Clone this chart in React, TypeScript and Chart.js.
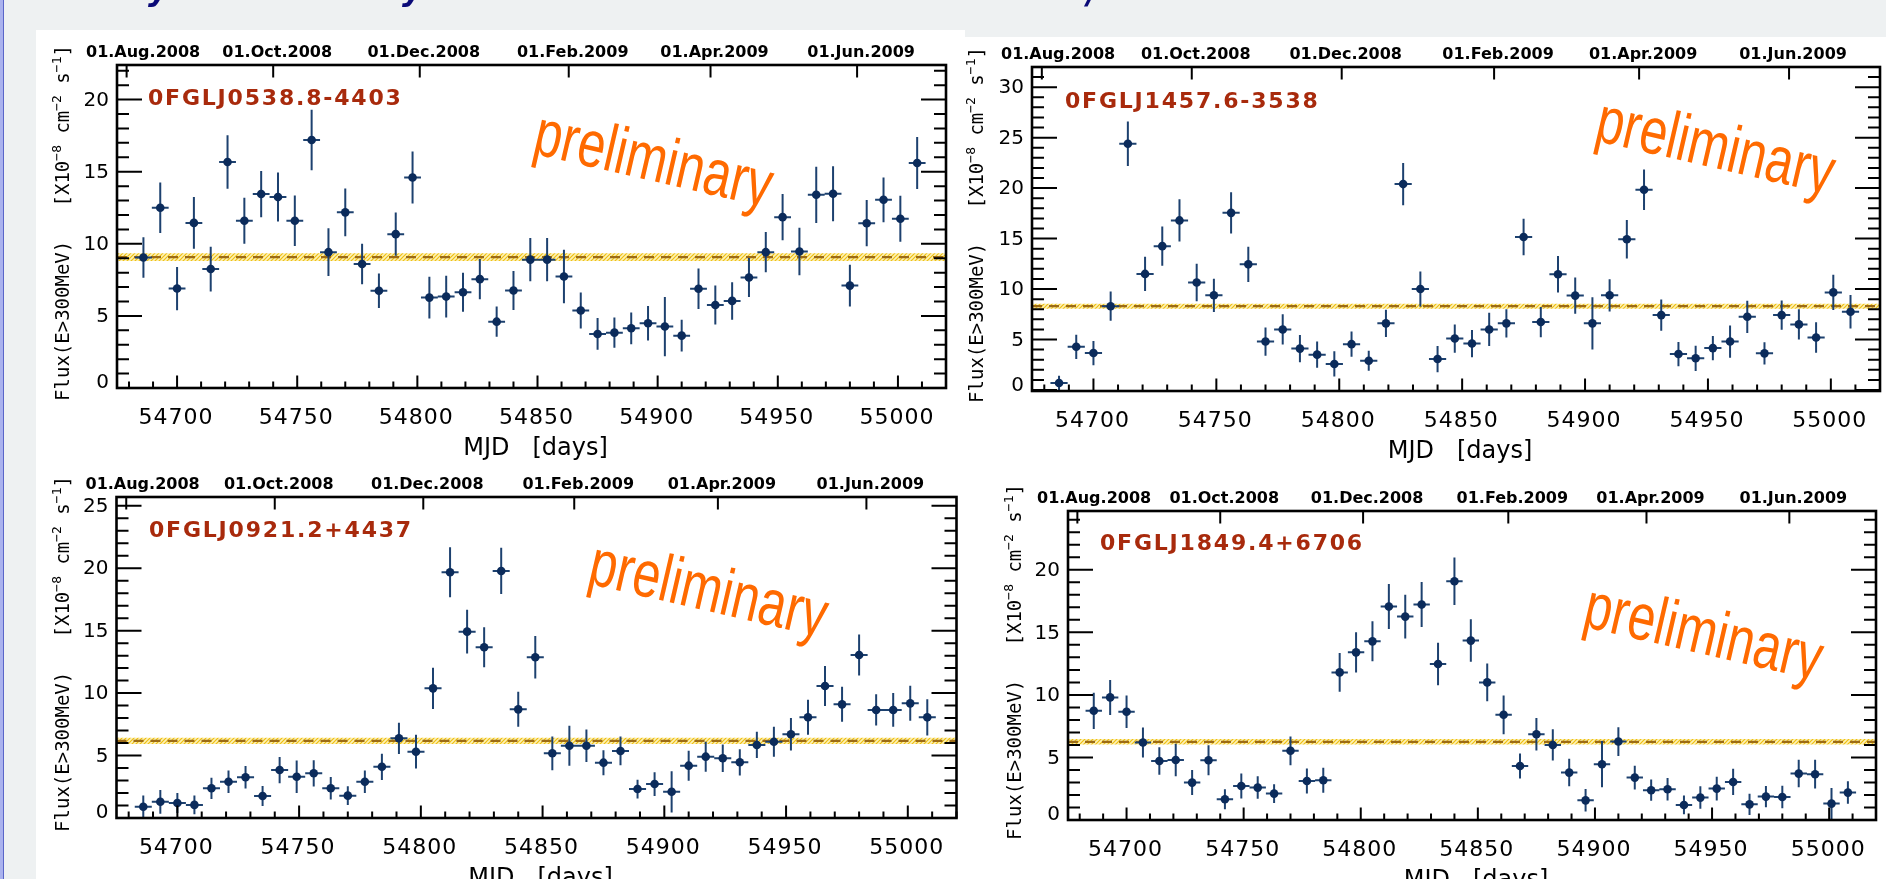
import React, { useEffect, useRef } from 'react';
import { Chart, registerables } from 'chart.js';

Chart.register(...registerables);

const W = 1886;
const H = 879;

// ---- data (weekly bins, MJD centres) ----
const MJD = [
  54686, 54693, 54700, 54707, 54714, 54721, 54728, 54735, 54742, 54749, 54756, 54763,
  54770, 54777, 54784, 54791, 54798, 54805, 54812, 54819, 54826, 54833, 54840, 54847,
  54854, 54861, 54868, 54875, 54882, 54889, 54896, 54903, 54910, 54917, 54924, 54931,
  54938, 54945, 54952, 54959, 54966, 54973, 54980, 54987, 54994, 55001, 55008,
];

const FLUX_J0538 = [9.05, 12.5, 6.9, 11.45, 8.25, 15.67, 11.6, 13.45, 13.24, 11.6, 17.2, 9.42, 12.18, 8.6, 6.74, 10.67, 14.6, 6.27, 6.34, 6.64, 7.55, 4.6, 6.76, 8.9, 8.9, 7.73, 5.37, 3.75, 3.84, 4.14, 4.49, 4.26, 3.63, 6.88, 5.76, 6.04, 7.66, 9.42, 11.85, 9.47, 13.4, 13.47, 7.1, 11.43, 13.05, 11.74, 15.6];
const ERR_J0538 = [1.4, 1.75, 1.5, 1.8, 1.55, 1.85, 1.6, 1.6, 1.7, 1.75, 2.1, 1.65, 1.65, 1.4, 1.2, 1.5, 1.8, 1.45, 1.45, 1.35, 1.4, 1.05, 1.35, 1.5, 1.5, 1.85, 1.25, 1.1, 1.05, 1.1, 1.2, 2.05, 1.1, 1.4, 1.35, 1.3, 1.35, 1.4, 1.6, 1.65, 1.95, 1.9, 1.45, 1.6, 1.55, 1.6, 1.8];

const FLUX_J1457 = [0.7, 4.28, 3.66, 8.3, 24.4, 11.5, 14.25, 16.8, 10.65, 9.38, 17.55, 12.45, 4.8, 6.0, 4.1, 3.5, 2.58, 4.54, 2.9, 6.6, 20.4, 10.0, 3.07, 5.1, 4.6, 6.0, 6.6, 15.16, 6.73, 11.47, 9.35, 6.6, 9.38, 14.93, 19.84, 7.42, 3.56, 3.14, 4.15, 4.8, 7.25, 3.63, 7.42, 6.5, 5.2, 9.67, 7.75];
const ERR_J1457 = [0.7, 1.2, 1.2, 1.45, 2.2, 1.7, 1.95, 2.1, 1.85, 1.65, 2.05, 1.75, 1.4, 1.5, 1.35, 1.3, 1.25, 1.25, 1.0, 1.35, 2.1, 1.75, 1.3, 1.4, 1.35, 1.65, 1.4, 1.8, 1.5, 1.8, 1.8, 2.6, 1.6, 1.9, 2.0, 1.55, 1.2, 1.25, 1.2, 1.6, 1.6, 1.1, 1.45, 1.5, 1.5, 1.75, 1.65];

const FLUX_J0921 = [0.9, 1.3, 1.2, 1.05, 2.38, 2.9, 3.26, 1.76, 3.84, 3.3, 3.58, 2.38, 1.79, 2.9, 4.1, 6.38, 5.31, 10.38, 19.67, 14.92, 13.67, 19.78, 8.7, 12.87, 5.18, 5.79, 5.79, 4.43, 5.37, 2.32, 2.72, 2.1, 4.19, 4.91, 4.78, 4.46, 5.85, 6.11, 6.7, 8.06, 10.57, 9.1, 13.05, 8.65, 8.65, 9.18, 8.06];
const ERR_J0921 = [0.9, 0.95, 0.8, 0.75, 0.85, 0.9, 0.9, 0.8, 1.05, 1.3, 1.05, 0.9, 0.75, 0.9, 1.05, 1.25, 1.35, 1.65, 2.0, 1.75, 1.6, 1.85, 1.4, 1.7, 1.35, 1.6, 1.3, 1.0, 1.15, 0.75, 0.95, 1.65, 1.2, 1.2, 1.1, 1.05, 1.05, 1.2, 1.3, 1.4, 1.6, 1.4, 1.65, 1.25, 1.35, 1.4, 1.45];

const FLUX_J1849 = [8.73, 9.8, 8.65, 6.19, 4.72, 4.8, 2.99, 4.78, 1.66, 2.72, 2.59, 2.11, 5.53, 3.12, 3.18, 11.8, 13.4, 14.28, 17.06, 16.26, 17.22, 12.47, 19.09, 14.34, 11.0, 8.41, 4.32, 6.86, 6.0, 3.79, 1.57, 4.46, 6.27, 3.39, 2.38, 2.46, 1.2, 1.79, 2.51, 3.04, 1.25, 1.87, 1.84, 3.71, 3.66, 1.31, 2.19];
const ERR_J1849 = [1.45, 1.4, 1.3, 1.2, 1.1, 1.3, 1.0, 1.2, 0.8, 1.0, 0.9, 0.75, 1.15, 1.0, 1.0, 1.55, 1.6, 1.6, 1.8, 1.75, 1.8, 1.7, 1.9, 1.7, 1.5, 1.55, 1.0, 1.3, 1.25, 1.1, 0.9, 1.85, 1.15, 0.95, 0.85, 0.9, 0.75, 0.9, 0.95, 1.05, 0.85, 0.85, 0.9, 1.1, 1.15, 1.25, 0.9];

const SOURCE_NAMES = ['0FGLJ0538.8-4403', '0FGLJ1457.6-3538', '0FGLJ0921.2+4437', '0FGLJ1849.4+6706'];
const MEAN_FLUX = [9.07, 8.3, 6.18, 6.25];
const MEAN_ERR = [0.27, 0.25, 0.25, 0.22];

const X_TICKS = [54700, 54750, 54800, 54850, 54900, 54950, 55000];
const DATE_TICKS = [54679, 54740, 54801, 54863, 54922, 54983];
const DATE_LABELS = ['01.Aug.2008', '01.Oct.2008', '01.Dec.2008', '01.Feb.2009', '01.Apr.2009', '01.Jun.2009'];
const Y_TICKS_J0538 = [0, 5, 10, 15, 20];
const Y_TICKS_J1457 = [0, 5, 10, 15, 20, 25, 30];
const Y_TICKS_J0921 = [0, 5, 10, 15, 20, 25];
const Y_TICKS_J1849 = [0, 5, 10, 15, 20];

const BIN_HALF = 3.5;
const X_MIN = 54675;
const X_MAX = 55020;

// ---- layout / style ----
type Panel = {
  flux: number[]; err: number[]; name: string; mean: number; meanErr: number; yTicks: number[];
  l: number; r: number; t: number; b: number; yMin: number; yMax: number;
  prelim: [number, number]; nameAt: [number, number]; ytitle: [number, number];
};

const PANELS: Panel[] = [
  { flux: FLUX_J0538, err: ERR_J0538, name: SOURCE_NAMES[0], mean: MEAN_FLUX[0], meanErr: MEAN_ERR[0], yTicks: Y_TICKS_J0538,
    l: 117, r: 946, t: 65, b: 388, yMin: 0, yMax: 22.4, prelim: [531, 153], nameAt: [148, 105], ytitle: [69, 223] },
  { flux: FLUX_J1457, err: ERR_J1457, name: SOURCE_NAMES[1], mean: MEAN_FLUX[1], meanErr: MEAN_ERR[1], yTicks: Y_TICKS_J1457,
    l: 1032, r: 1880, t: 67, b: 391, yMin: -0.1, yMax: 32, prelim: [1593, 140], nameAt: [1065, 108], ytitle: [983, 225] },
  { flux: FLUX_J0921, err: ERR_J0921, name: SOURCE_NAMES[2], mean: MEAN_FLUX[2], meanErr: MEAN_ERR[2], yTicks: Y_TICKS_J0921,
    l: 116.5, r: 956.5, t: 497, b: 818, yMin: 0, yMax: 25.7, prelim: [586, 583], nameAt: [149, 537], ytitle: [69, 654] },
  { flux: FLUX_J1849, err: ERR_J1849, name: SOURCE_NAMES[3], mean: MEAN_FLUX[3], meanErr: MEAN_ERR[3], yTicks: Y_TICKS_J1849,
    l: 1068, r: 1876, t: 511, b: 820, yMin: 0, yMax: 24.7, prelim: [1581, 626], nameAt: [1100, 550], ytitle: [1021, 662] },
];

const POINT_COLOR = '#0b2b5b';
const ERR_COLOR = '#1d416f';
const MEAN_COLOR = '#9c6b16';
const NAME_COLOR = '#a82a0c';
const PRELIM_COLOR = '#ff6a00';

function makeHatch(): CanvasPattern | string {
  const c = document.createElement('canvas');
  c.width = 4; c.height = 4;
  const g = c.getContext('2d');
  if (!g) return '#f7dc70';
  g.fillStyle = '#fdf1b8';
  g.fillRect(0, 0, 4, 4);
  g.strokeStyle = '#efbf10';
  g.lineWidth = 1.2;
  g.beginPath();
  g.moveTo(0, 4); g.lineTo(4, 0);
  g.moveTo(-1, 1); g.lineTo(1, -1);
  g.moveTo(3, 5); g.lineTo(5, 3);
  g.stroke();
  return g.createPattern(c, 'repeat') || '#f7dc70';
}

function drawYTitle(ctx: CanvasRenderingContext2D, bx: number, cy: number) {
  const main = '19px "DejaVu Sans Mono"';
  const sup = '13px "DejaVu Sans Mono"';
  const segs: [string, boolean][] = [
    ['Flux(E>300MeV)   [X10', false], ['\u22128', true], [' cm', false], ['\u22122', true],
    [' s', false], ['\u22121', true], [']', false],
  ];
  ctx.save();
  ctx.translate(bx, cy);
  ctx.rotate(-Math.PI / 2);
  ctx.fillStyle = '#000';
  ctx.textBaseline = 'alphabetic';
  ctx.textAlign = 'left';
  let total = 0;
  const widths = segs.map(([t, s]) => { ctx.font = s ? sup : main; const w = ctx.measureText(t).width; total += w; return w; });
  let x = -total / 2;
  segs.forEach(([t, s], i) => {
    ctx.font = s ? sup : main;
    ctx.fillText(t, x, s ? -8 : 0);
    x += widths[i];
  });
  ctx.restore();
}

function makeDecor(p: Panel) {
  return {
    id: 'lightcurveDecor',
    beforeDatasetsDraw(chart: any) {
      const ctx: CanvasRenderingContext2D = chart.ctx;
      ctx.save();
      ctx.translate(p.prelim[0], p.prelim[1]);
      ctx.rotate((13 * Math.PI) / 180);
      ctx.scale(0.75, 1);
      ctx.font = '66px "Liberation Sans"';
      ctx.fillStyle = PRELIM_COLOR;
      ctx.textBaseline = 'alphabetic';
      ctx.fillText('preliminary', 0, 0);
      ctx.restore();
    },
    beforeDatasetDraw(chart: any, args: any) {
      if (args.index !== 0) return;
      const ctx: CanvasRenderingContext2D = chart.ctx;
      const a = chart.chartArea;
      const xs = chart.scales.x;
      const ys = chart.scales.y;
      ctx.save();
      ctx.beginPath();
      ctx.rect(a.left, a.top, a.right - a.left, a.bottom - a.top);
      ctx.clip();
      ctx.strokeStyle = ERR_COLOR;
      ctx.lineWidth = 2;
      ctx.beginPath();
      MJD.forEach((m, i) => {
        const px = xs.getPixelForValue(m);
        const py = ys.getPixelForValue(p.flux[i]);
        ctx.moveTo(px, ys.getPixelForValue(p.flux[i] - p.err[i]));
        ctx.lineTo(px, ys.getPixelForValue(p.flux[i] + p.err[i]));
        ctx.moveTo(xs.getPixelForValue(m - BIN_HALF), py);
        ctx.lineTo(xs.getPixelForValue(m + BIN_HALF), py);
      });
      ctx.stroke();
      ctx.restore();
    },
    afterDraw(chart: any) {
      const ctx: CanvasRenderingContext2D = chart.ctx;
      const a = chart.chartArea;
      const xs = chart.scales.x;
      const ys = chart.scales.y;
      ctx.save();
      // ticks
      ctx.strokeStyle = '#000';
      ctx.lineWidth = 2;
      ctx.beginPath();
      for (let v = Math.ceil(p.yMin); v <= p.yMax; v++) {
        const py = ys.getPixelForValue(v);
        const len = v % 5 === 0 ? 25 : 12;
        ctx.moveTo(a.left, py); ctx.lineTo(a.left + len, py);
        ctx.moveTo(a.right, py); ctx.lineTo(a.right - len, py);
      }
      for (let v = 54680; v <= X_MAX; v += 10) {
        const px = xs.getPixelForValue(v);
        const len = v % 50 === 0 ? 12.5 : 6.5;
        ctx.moveTo(px, a.bottom); ctx.lineTo(px, a.bottom - len);
      }
      DATE_TICKS.forEach((d) => {
        const px = xs.getPixelForValue(d);
        ctx.moveTo(px, a.top); ctx.lineTo(px, a.top + 12.5);
      });
      ctx.stroke();
      ctx.lineWidth = 2.6;
      ctx.strokeRect(a.left, a.top, a.right - a.left, a.bottom - a.top);

      ctx.fillStyle = '#000';
      // y labels
      ctx.font = '20px "DejaVu Sans"';
      ctx.textAlign = 'right';
      ctx.textBaseline = 'middle';
      p.yTicks.forEach((v) => {
        const py = Math.min(ys.getPixelForValue(v) + 1, a.bottom - 5);
        ctx.fillText(String(v), a.left - 8, py);
      });
      // bottom labels
      ctx.font = '22px "DejaVu Sans"';
      (ctx as any).letterSpacing = '1px';
      ctx.textAlign = 'center';
      ctx.textBaseline = 'alphabetic';
      X_TICKS.forEach((v) => {
        ctx.fillText(String(v), xs.getPixelForValue(v) - 1, a.bottom + 36);
      });
      (ctx as any).letterSpacing = '0px';
      // top date labels
      ctx.font = 'bold 16px "DejaVu Sans"';
      DATE_LABELS.forEach((lab, i) => {
        if (i === 0) {
          ctx.textAlign = 'left';
          ctx.fillText(lab, a.left - 31, a.top - 8);
        } else {
          ctx.textAlign = 'center';
          ctx.fillText(lab, xs.getPixelForValue(DATE_TICKS[i]) + 4, a.top - 8);
        }
      });
      // x title
      ctx.font = '24px "DejaVu Sans"';
      ctx.textAlign = 'center';
      ctx.fillText('MJD   [days]', (a.left + a.right) / 2 + 4, a.bottom + 67);
      // y title
      drawYTitle(ctx, p.ytitle[0], p.ytitle[1]);
      // source name
      ctx.font = 'bold 22px "DejaVu Sans"';
      (ctx as any).letterSpacing = '1.8px';
      ctx.textAlign = 'left';
      ctx.fillStyle = NAME_COLOR;
      ctx.fillText(p.name, p.nameAt[0], p.nameAt[1]);
      (ctx as any).letterSpacing = '0px';
      ctx.restore();
    },
  };
}

function LightCurve({ panel }: { panel: Panel }) {
  const ref = useRef<HTMLCanvasElement | null>(null);
  useEffect(() => {
    if (!ref.current) return;
    const hatch = makeHatch();
    const chart = new Chart(ref.current, {
      type: 'scatter',
      data: {
        datasets: [
          {
            type: 'scatter',
            data: MJD.map((m, i) => ({ x: m, y: panel.flux[i] })),
            pointRadius: 4.3,
            pointBackgroundColor: POINT_COLOR,
            pointBorderWidth: 0,
            pointBorderColor: POINT_COLOR,
          } as any,
          {
            type: 'line',
            data: [{ x: X_MIN, y: panel.mean }, { x: X_MAX, y: panel.mean }],
            borderColor: MEAN_COLOR,
            borderWidth: 2.3,
            borderDash: [10, 7],
            pointRadius: 0,
            fill: false,
          } as any,
          {
            type: 'line',
            data: [{ x: X_MIN, y: panel.mean + panel.meanErr }, { x: X_MAX, y: panel.mean + panel.meanErr }],
            borderColor: 'rgba(0,0,0,0)',
            borderWidth: 1,
            pointRadius: 0,
            backgroundColor: hatch,
            fill: { value: panel.mean - panel.meanErr },
          } as any,
        ],
      },
      options: {
        responsive: false,
        maintainAspectRatio: false,
        animation: false,
        devicePixelRatio: 1,
        events: [],
        layout: { padding: { left: panel.l, top: panel.t, right: W - panel.r, bottom: H - panel.b } },
        scales: {
          x: { type: 'linear', min: X_MIN, max: X_MAX, display: false },
          y: { type: 'linear', min: panel.yMin, max: panel.yMax, display: false },
        },
        plugins: { legend: { display: false }, tooltip: { enabled: false } },
      },
      plugins: [makeDecor(panel)],
    } as any);
    return () => chart.destroy();
  }, [panel]);
  return (
    <canvas
      ref={ref}
      width={W}
      height={H}
      style={{ position: 'absolute', left: 0, top: 0, width: W, height: H, display: 'block' }}
    />
  );
}

function Backdrop() {
  const ref = useRef<HTMLCanvasElement | null>(null);
  useEffect(() => {
    const c = ref.current;
    if (!c) return;
    const g = c.getContext('2d');
    if (!g) return;
    g.fillStyle = '#eef1f2';
    g.fillRect(0, 0, W, H);
    g.fillStyle = '#ffffff';
    g.fillRect(36, 30, 929, H - 30);
    g.fillRect(965, 37, W - 965, H - 37);
    g.fillStyle = '#aab2ee';
    g.fillRect(0, 0, 3, H);
    g.fillStyle = '#5a66c8';
    g.fillRect(3, 0, 1, H);
    // descenders of a cut-off headline above the panels
    g.save();
    g.beginPath();
    g.rect(0, 0, W, 9);
    g.clip();
    g.fillStyle = '#0a0a78';
    g.font = 'bold italic 32px "DejaVu Sans"';
    g.fillText('y', 148, 0);
    g.fillText('y', 402, 0);
    g.fillText('/', 1087, 3);
    g.restore();
  }, []);
  return (
    <canvas ref={ref} width={W} height={H} style={{ position: 'absolute', left: 0, top: 0, width: W, height: H }} />
  );
}

export default function App() {
  return (
    <div style={{ position: 'absolute', left: 0, top: 0, width: W, height: H, overflow: 'hidden' }}>
      <Backdrop />
      {PANELS.map((p, i) => (
        <LightCurve key={i} panel={p} />
      ))}
    </div>
  );
}
